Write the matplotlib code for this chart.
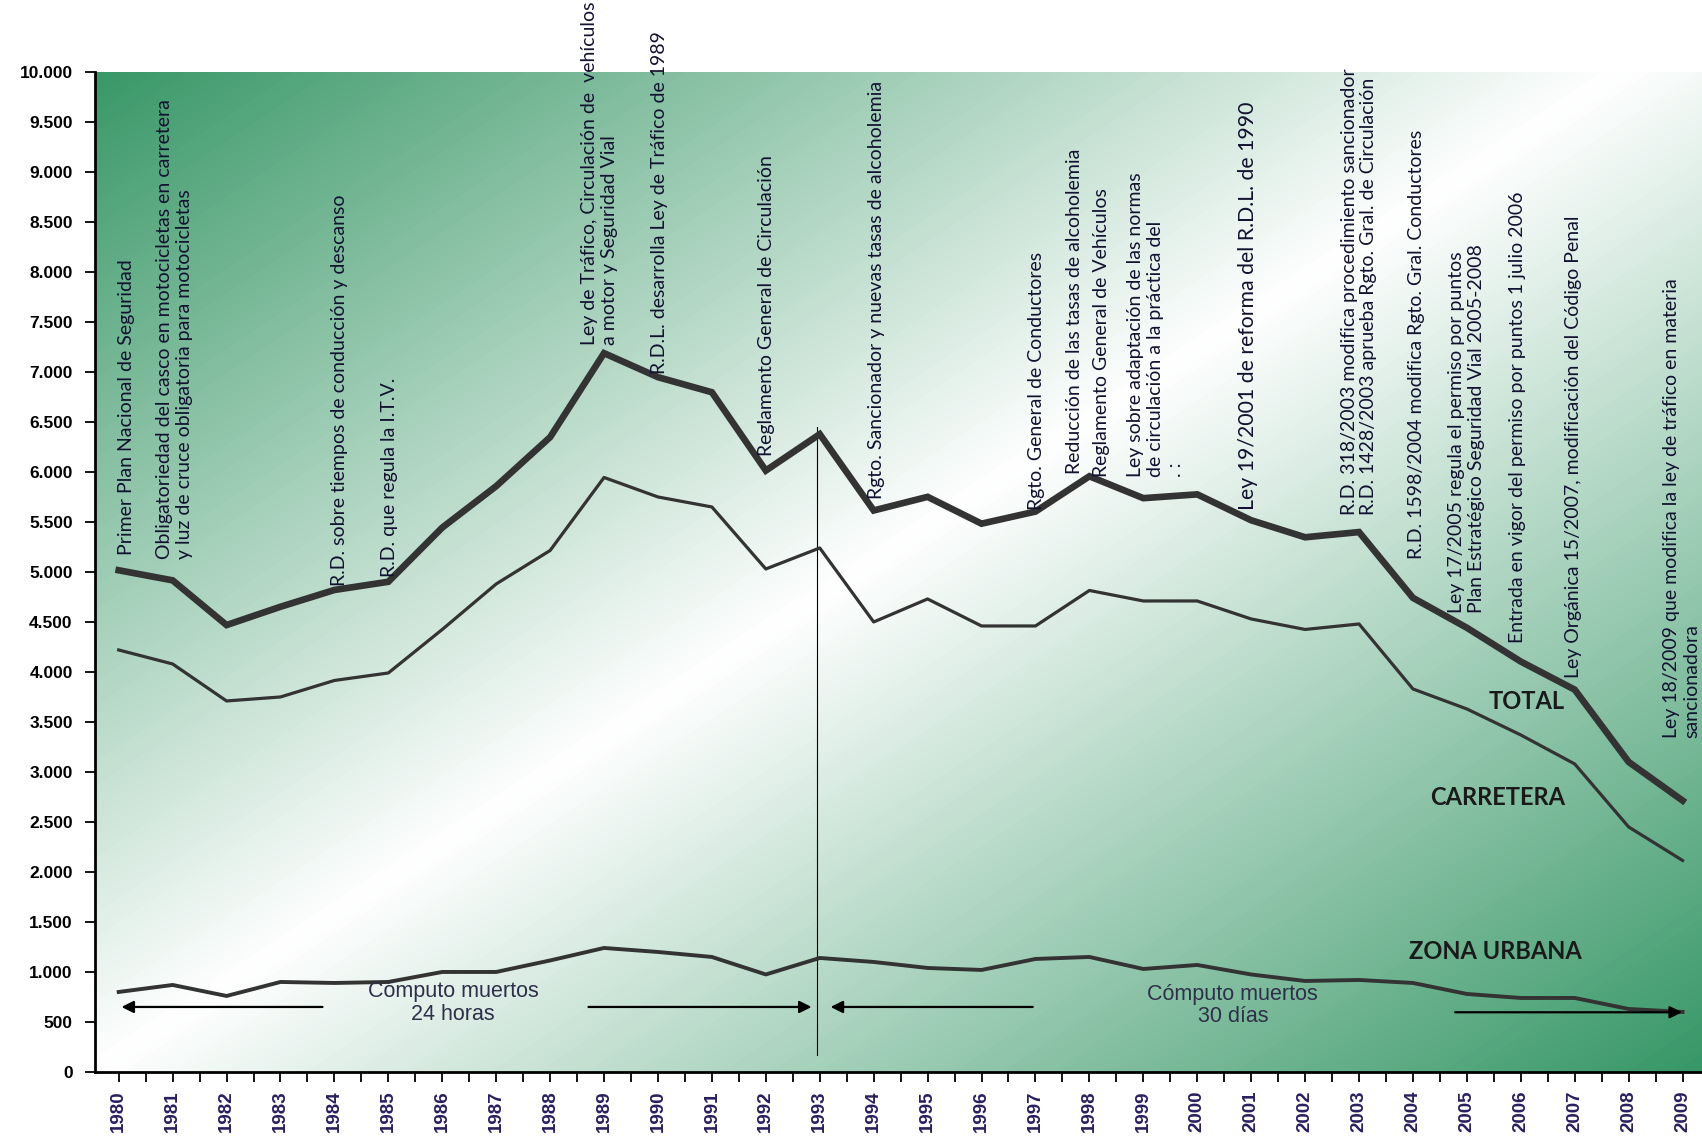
import numpy as np
import matplotlib
matplotlib.use('Agg')
import matplotlib.pyplot as plt
from matplotlib.colors import LinearSegmentedColormap

years = list(range(1980, 2010))
total = [5017, 4916, 4469, 4652, 4820, 4902, 5444, 5858, 6348, 7188,
         6948, 6797, 6014, 6378, 5615, 5751, 5483, 5604, 5957, 5738,
         5776, 5517, 5347, 5399, 4741, 4442, 4104, 3823, 3100, 2714]
carretera = [4220, 4080, 3710, 3750, 3915, 3990, 4425, 4880, 5215, 5945,
             5750, 5650, 5030, 5240, 4500, 4730, 4460, 4460, 4815, 4710,
             4710, 4530, 4425, 4480, 3830, 3630, 3370, 3080, 2450, 2115]
urbana = [800, 870, 760, 900, 890, 900, 1000, 1000, 1115, 1240,
          1200, 1150, 975, 1140, 1100, 1040, 1020, 1130, 1150, 1030,
          1070, 975, 910, 920, 890, 780, 740, 740, 630, 600]

# (indice del año, valor inferior, texto)
eventos = [
    (0.14, 5170, "Primer Plan Nacional de Seguridad"),
    (1.03, 5130, "Obligatoriedad del casco en motocicletas en carretera\ny luz de cruce obligatoria para motocicletas"),
    (4.09, 4860, "R.D. sobre tiempos de conducción y descanso"),
    (5.03, 4950, "R.D. que regula la I.T.V."),
    (8.92, 7270, "Ley de Tráfico, Circulación de  vehículos\na motor y Seguridad Vial"),
    (10.03, 6975, "R.D.L. desarrolla Ley de Tráfico de 1989"),
    (12.02, 6160, "Reglamento General de Circulación"),
    (14.06, 5730, "Rgto. Sancionador y nuevas tasas de alcoholemia"),
    (17.02, 5620, "Rgto. General de Conductores"),
    (17.72, 5975, "Reducción de las tasas de alcoholemia"),
    (18.22, 5945, "Reglamento General de Vehículos"),
    (19.23, 5945, "Ley sobre adaptación de las normas\nde circulación a la práctica del\n. :"),
    (23.0, 5565, "R.D. 318/2003 modifica procedimiento sancionador\nR.D. 1428/2003 aprueba Rgto. Gral. de Circulación"),
    (24.06, 5130, "R.D. 1598/2004 modifica Rgto. Gral. Conductores"),
    (24.99, 4590, "Ley 17/2005 regula el permiso por puntos\nPlan Estratégico Seguridad Vial 2005-2008"),
    (25.94, 4285, "Entrada en vigor del permiso por puntos 1 julio 2006"),
    (26.98, 3935, "Ley Orgánica 15/2007, modificación del Código Penal"),
    (28.98, 3340, "Ley 18/2009 que modifica la ley de tráfico en materia\nsancionadora"),
]
ley_2001 = (20.94, 5620, "Ley 19/2001 de reforma del R.D.L. de 1990")

x = np.arange(len(years))
xlim = (-0.44, 29.36)

fig = plt.figure(figsize=(17.02, 11.37), dpi=100)
ax = fig.add_axes([0.0558, 0.0572, 1.0 - 0.0558, 0.8795])

# fondo degradado verde-blanco-verde en diagonal
u = np.linspace(0, 1, 400)
v = np.linspace(0, 1, 300)
uu, vv = np.meshgrid(u, v)
t = (uu + 0.95 * vv) / 1.95
cmap = LinearSegmentedColormap.from_list(
    'fondo', [(0.0, '#3a9868'), (0.487, '#ffffff'), (1.0, '#379767')])
ax.imshow(t, cmap=cmap, vmin=0, vmax=1, extent=(xlim[0], xlim[1], 0, 10000),
          aspect='auto', origin='upper', zorder=0, interpolation='bilinear')

ax.plot(x, total, color='#333333', lw=4.8, solid_joinstyle='miter', zorder=3)
ax.plot(x, carretera, color='#333333', lw=2.3, zorder=3)
ax.plot(x, urbana, color='#333333', lw=2.8, zorder=3)

ax.plot([12.95, 12.95], [170, 6450], color='black', lw=0.8, zorder=2)

ax.set_xlim(xlim)
ax.set_ylim(0, 10000)

ax.set_yticks(np.arange(0, 10001, 500))
ax.set_yticklabels(['{:,}'.format(k).replace(',', '.') for k in range(0, 10001, 500)],
                   fontsize=12.5, fontweight='bold', family='Liberation Sans')
ax.set_xticks(x)
ax.set_xticks(x[:-1] + 0.5, minor=True)
ax.set_xticklabels([str(a) for a in years], rotation=90, fontsize=13.5,
                   fontweight='bold', family='Liberation Sans', color='#2a1f5e')
ax.tick_params(axis='both', which='both', direction='out', length=7, width=1.3, color='black')
ax.tick_params(axis='x', pad=6)
ax.tick_params(axis='y', pad=9)
for s in ['top', 'right']:
    ax.spines[s].set_visible(False)
for s in ['left', 'bottom']:
    ax.spines[s].set_linewidth(2)

fuente = ['Lato', 'DejaVu Sans']
for xi, yi, txt in eventos:
    ax.text(xi, yi, txt, rotation=90, ha='center', va='bottom', multialignment='left',
            fontsize=14, family=fuente, color='#121230', linespacing=1.2,
            zorder=4, clip_on=False)
ax.text(ley_2001[0], ley_2001[1], ley_2001[2], rotation=90, ha='center', va='bottom',
        fontsize=15.3, family=fuente, color='#121230', zorder=4, clip_on=False)

ax.text(26.1, 3700, 'TOTAL', ha='center', va='center', fontsize=17,
        fontweight='bold', family=fuente, color='#1a1a1a', zorder=4)
ax.text(25.57, 2745, 'CARRETERA', ha='center', va='center', fontsize=17,
        fontweight='bold', family=fuente, color='#1a1a1a', zorder=4)
ax.text(25.53, 1200, 'ZONA URBANA', ha='center', va='center', fontsize=17,
        fontweight='bold', family=fuente, color='#1a1a1a', zorder=4)

flecha = dict(arrowstyle='-|>', color='black', lw=1.6, mutation_scale=18)
ax.annotate('', xy=(0, 650), xytext=(3.83, 650), arrowprops=flecha, zorder=4)
ax.annotate('', xy=(12.9, 650), xytext=(8.66, 650), arrowprops=flecha, zorder=4)
ax.annotate('', xy=(13.15, 650), xytext=(17.0, 650), arrowprops=flecha, zorder=4)
ax.annotate('', xy=(29.04, 597), xytext=(24.73, 597), arrowprops=flecha, zorder=4)

ax.text(6.2, 690, 'Cómputo muertos\n24 horas', ha='center', va='center', fontsize=15.5,
        family='Liberation Sans', color='#2f2f4a', linespacing=1.1, zorder=4)
ax.text(20.66, 665, 'Cómputo muertos\n30 días', ha='center', va='center', fontsize=15.5,
        family='Liberation Sans', color='#2f2f4a', linespacing=1.1, zorder=4)

fig.savefig('out.png', dpi=100)
